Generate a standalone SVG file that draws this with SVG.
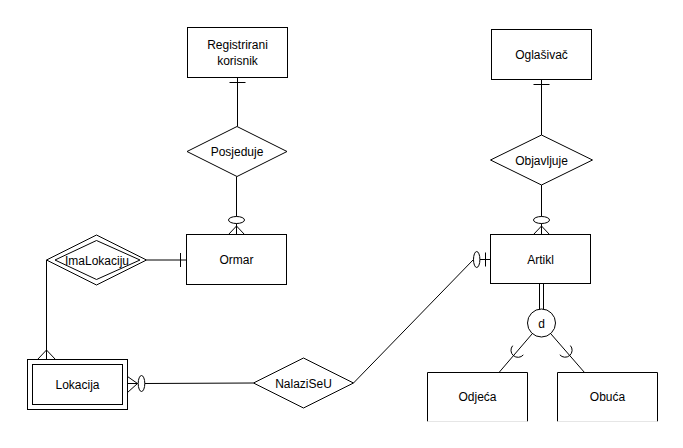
<svg xmlns="http://www.w3.org/2000/svg" width="683" height="448" viewBox="0 0 683 448">
<style>
.s{fill:#fff;stroke:#000;stroke-width:1}
.l{fill:none;stroke:#000;stroke-width:1}
.t{font-family:"Liberation Sans",Arial,sans-serif;font-size:12px;fill:#000;text-anchor:middle}
</style>
<rect width="683" height="448" fill="#fff"/>
<g id="connectors">
  <!-- Registrirani korisnik - Posjeduje -->
  <line class="l" x1="237.5" y1="77.5" x2="237.5" y2="126.5"/>
  <line class="l" x1="229.5" y1="82.5" x2="245.5" y2="82.5"/>
  <!-- Posjeduje - Ormar -->
  <line class="l" x1="236.5" y1="176.5" x2="236.5" y2="216.5"/>
  <ellipse class="l" cx="236.5" cy="220" rx="8" ry="3.5"/>
  <line class="l" x1="236.5" y1="223.5" x2="236.5" y2="234.5"/>
  <polyline class="l" points="228.5,234.5 236.5,226 244.5,234.5"/>
  <!-- Oglasivac - Objavljuje -->
  <line class="l" x1="541.5" y1="79.5" x2="541.5" y2="135"/>
  <line class="l" x1="533.5" y1="84.5" x2="549.5" y2="84.5"/>
  <!-- Objavljuje - Artikl -->
  <line class="l" x1="541.5" y1="185" x2="541.5" y2="216.5"/>
  <ellipse class="l" cx="541.5" cy="220" rx="8" ry="3.5"/>
  <line class="l" x1="541.5" y1="223.5" x2="541.5" y2="234.5"/>
  <polyline class="l" points="533.5,234.5 541.5,226 549.5,234.5"/>
  <!-- ImaLokaciju - Ormar -->
  <line class="l" x1="146.5" y1="260" x2="186.5" y2="260"/>
  <line class="l" x1="180.5" y1="253" x2="180.5" y2="267"/>
  <!-- ImaLokaciju - Lokacija -->
  <line class="l" x1="46.5" y1="260" x2="46.5" y2="359.5"/>
  <polyline class="l" points="37.5,359.5 46.5,350 55.5,359.5"/>
  <!-- Lokacija - NalaziSeU -->
  <line class="l" x1="127.5" y1="383.5" x2="137.5" y2="383.5"/>
  <polyline class="l" points="127.5,376.5 137.5,383.5 127.5,392.5"/>
  <ellipse class="l" cx="141.5" cy="383.5" rx="3.3" ry="8"/>
  <line class="l" x1="144.8" y1="383.5" x2="253.5" y2="383"/>
  <!-- NalaziSeU - Artikl -->
  <line class="l" x1="353.5" y1="383" x2="473.5" y2="259.5"/>
  <ellipse class="l" cx="476.7" cy="259.5" rx="3.2" ry="8"/>
  <line class="l" x1="479.9" y1="259.5" x2="490.5" y2="259.5"/>
  <line class="l" x1="485.5" y1="252.5" x2="485.5" y2="266.5"/>
  <!-- Artikl - d -->
  <line class="l" x1="539.5" y1="283.5" x2="539.5" y2="309.5"/>
  <line class="l" x1="543.5" y1="283.5" x2="543.5" y2="309.5"/>
  <!-- d - Odjeca -->
  <line class="l" x1="532" y1="334" x2="499" y2="372.5"/>
  <path class="l" d="M512.7,345.7 A7,7 0 0,0 523.3,354.9"/>
  <!-- d - Obuca -->
  <line class="l" x1="551" y1="334" x2="584.5" y2="372.5"/>
  <path class="l" d="M570.4,345.6 A7,7 0 0,1 559.8,354.8"/>
</g>
<g id="registrirani-korisnik">
  <rect class="s" x="187.5" y="27.5" width="100" height="50"/>
  <text class="t" x="237.5" y="49">Registrirani</text>
  <text class="t" x="237.5" y="65">korisnik</text>
</g>
<g id="oglasivac">
  <rect class="s" x="491.5" y="29.5" width="100" height="50"/>
  <text class="t" x="541.5" y="59">Oglašivač</text>
</g>
<g id="posjeduje">
  <polygon class="s" points="187,151.5 237,126.5 287,151.5 237,176.5"/>
  <text class="t" x="237" y="156">Posjeduje</text>
</g>
<g id="objavljuje">
  <polygon class="s" points="490.5,160 541.5,135 592.5,160 541.5,185"/>
  <text class="t" x="541.5" y="164.5">Objavljuje</text>
</g>
<g id="ormar">
  <rect class="s" x="186.5" y="234.5" width="100" height="50"/>
  <text class="t" x="236.5" y="264">Ormar</text>
</g>
<g id="artikl">
  <rect class="s" x="490.5" y="234.5" width="100" height="49"/>
  <text class="t" x="540.5" y="263.5">Artikl</text>
</g>
<g id="imalokaciju">
  <polygon class="s" points="46.5,260 96.5,235 146.5,260 96.5,285"/>
  <polygon class="s" points="55,260 96.5,240.5 140,260 96.5,279.5"/>
  <text class="t" x="97" y="264.5">ImaLokaciju</text>
</g>
<g id="lokacija">
  <rect class="s" x="27.5" y="359.5" width="100" height="50"/>
  <rect class="s" x="32.5" y="364.5" width="90" height="40"/>
  <text class="t" x="77.5" y="389">Lokacija</text>
</g>
<g id="nalaziseu">
  <polygon class="s" points="253.5,383 303.5,358 353.5,383 303.5,408"/>
  <text class="t" x="303.5" y="387.5">NalaziSeU</text>
</g>
<g id="d">
  <circle class="s" cx="541.5" cy="323" r="14"/>
  <text class="t" x="541.5" y="327.5">d</text>
</g>
<g id="odjeca">
  <rect x="427.5" y="372.5" width="100" height="49" fill="#fff" stroke="none"/>
  <path class="l" d="M427.5,421.5 V372.5 H527.5 V421.5"/>
  <line x1="427.5" y1="421.5" x2="527.5" y2="421.5" stroke="#e6e6e6"/>
  <text class="t" x="477.5" y="401">Odjeća</text>
</g>
<g id="obuca">
  <rect x="557.5" y="372.5" width="100" height="49" fill="#fff" stroke="none"/>
  <path class="l" d="M557.5,421.5 V372.5 H657.5 V421.5"/>
  <line x1="557.5" y1="421.5" x2="657.5" y2="421.5" stroke="#e6e6e6"/>
  <text class="t" x="607.5" y="401">Obuća</text>
</g>
</svg>
